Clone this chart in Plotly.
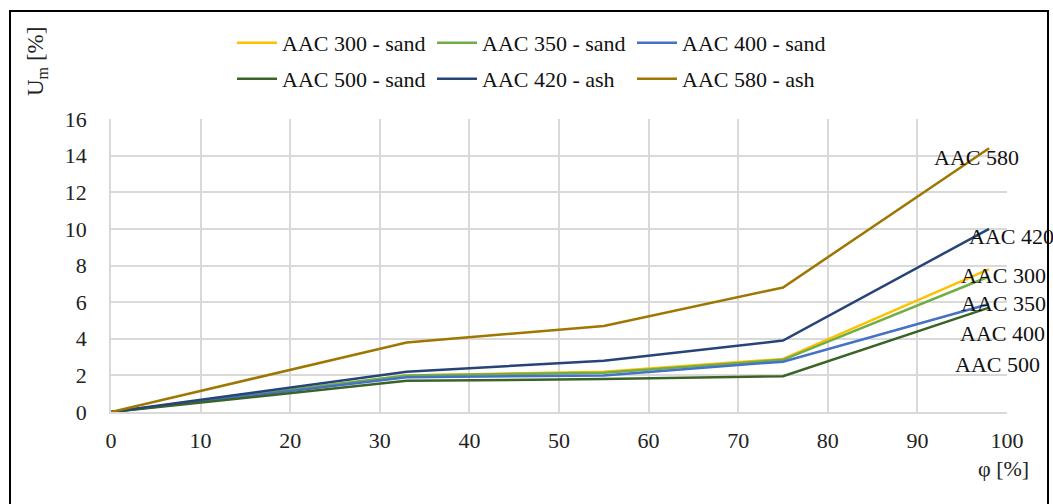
import plotly.graph_objects as go

phi = [0, 33, 55, 75, 98]
series_names = ["AAC 300 - sand", "AAC 350 - sand", "AAC 400 - sand",
                "AAC 500 - sand", "AAC 420 - ash", "AAC 580 - ash"]
aac300 = [0, 2.0, 2.2, 2.9, 7.8]
aac350 = [0, 2.0, 2.15, 2.85, 7.4]
aac400 = [0, 1.9, 2.0, 2.75, 5.9]
aac500 = [0, 1.7, 1.8, 1.95, 5.7]
aac420 = [0, 2.2, 2.8, 3.9, 10.0]
aac580 = [0, 3.8, 4.7, 6.8, 14.4]
end_labels = ["AAC 300", "AAC 350", "AAC 400", "AAC 500", "AAC 420", "AAC 580"]
x_ticks = list(range(0, 101, 10))
y_ticks = list(range(0, 17, 2))

values = [aac300, aac350, aac400, aac500, aac420, aac580]
colors = ["#FFC000", "#70AD47", "#4472C4", "#3B6326", "#264478", "#9E7700"]
legend_ids = ["legend", "legend", "legend", "legend2", "legend2", "legend2"]
label_shift = [(14, -6), (14, -27), (13, -30), (8, -57), (22, -8), (-13, -9)]

FONT = "Liberation Serif"

fig = go.Figure()
for name, ys, c, lg in zip(series_names, values, colors, legend_ids):
    fig.add_trace(go.Scatter(x=phi, y=ys, mode="lines", name=name,
                             line=dict(color=c, width=2.5), legend=lg))

for lab, ys, (dx, dy) in zip(end_labels, values, label_shift):
    fig.add_annotation(x=phi[-1], y=ys[-1], text=lab, showarrow=False,
                       xshift=dx, yshift=dy, xref="x", yref="y",
                       xanchor="center", yanchor="middle",
                       font=dict(family=FONT, size=22, color="#111111"))

fig.add_annotation(xref="paper", yref="paper", x=(37 - 111) / 896, y=(412 - 62) / 293,
                   text="U<sub>m</sub> [%]", textangle=-90, showarrow=False,
                   xanchor="center", yanchor="middle",
                   font=dict(family=FONT, size=23, color="#222222"))
fig.add_annotation(xref="paper", yref="paper", x=(1003 - 111) / 896, y=(412 - 468) / 293,
                   text="φ [%]", showarrow=False, xanchor="center", yanchor="middle",
                   font=dict(family=FONT, size=22, color="#222222"))

fig.add_shape(type="rect", xref="paper", yref="paper",
              x0=(10 - 111) / 896, x1=(1048 - 111) / 896,
              y0=(412 - 520) / 293, y1=(412 - 11) / 293,
              line=dict(color="black", width=2), fillcolor="rgba(0,0,0,0)", layer="below")

legend_common = dict(orientation="h", xanchor="left", yanchor="top", entrywidth=145,
                     font=dict(family=FONT, size=22, color="#111111"),
                     bgcolor="rgba(0,0,0,0)", tracegroupgap=0, itemwidth=40)

fig.update_layout(
    width=1053, height=504,
    margin=dict(l=111, r=46, t=119, b=92),
    paper_bgcolor="white", plot_bgcolor="white",
    font=dict(family=FONT, size=22, color="#222222"),
    legend=dict(x=(232 - 111) / 896, y=(412 - 22) / 293, **legend_common),
    legend2=dict(x=(232 - 111) / 896, y=(412 - 58) / 293, **legend_common),
    xaxis=dict(range=[0, 100], tickvals=x_ticks, showgrid=True, gridcolor="#D9D9D9",
               gridwidth=1.5, zeroline=False, showline=True, linecolor="#D9D9D9",
               linewidth=1.5, ticks="", ticklabelstandoff=8,
               tickfont=dict(family=FONT, size=22, color="#222222")),
    yaxis=dict(range=[0, 16], tickvals=y_ticks, showgrid=True, gridcolor="#D9D9D9",
               gridwidth=1.5, zeroline=False, showline=True, linecolor="#D9D9D9",
               linewidth=1.5, ticks="", ticklabelstandoff=18,
               tickfont=dict(family=FONT, size=22, color="#222222")),
)

fig.write_html("out.html")
